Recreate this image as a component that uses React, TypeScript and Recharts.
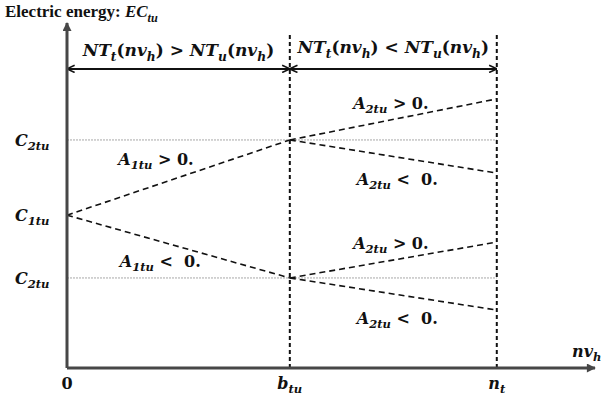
import { Line, LineChart, ReferenceDot, ReferenceLine, XAxis, YAxis } from 'recharts';

// conceptual axis positions (data units, 0..100 on both axes)
const xBreak = 42.2; // b_tu
const xEnd = 81.4; // n_t
const levelC1 = 44.3;
const levelC2Upper = 66.1;
const levelC2Lower = 26.1;
const arrowLevel = 86.7;
const dividerTop = 97.1;

const xTicks = [0, xBreak, xEnd];
const xTickLabels: Part[][] = [
  [['0', 'u']],
  [['b', 'i'], ['tu', 's']],
  [['n', 'i'], ['t', 's']]
];
const yTicks = [levelC2Lower, levelC1, levelC2Upper];
const yTickLabels: Part[][] = [
  [['C', 'i'], ['2tu', 's']],
  [['C', 'i'], ['1tu', 's']],
  [['C', 'i'], ['2tu', 's']]
];

const riseFromC1 = [{ x: 0, y: levelC1 }, { x: xBreak, y: levelC2Upper }];
const fallFromC1 = [{ x: 0, y: levelC1 }, { x: xBreak, y: levelC2Lower }];
const riseFromUpper = [{ x: xBreak, y: levelC2Upper }, { x: xEnd, y: 78.0 }];
const fallFromUpper = [{ x: xBreak, y: levelC2Upper }, { x: xEnd, y: 56.5 }];
const riseFromLower = [{ x: xBreak, y: levelC2Lower }, { x: xEnd, y: 36.5 }];
const fallFromLower = [{ x: xBreak, y: levelC2Lower }, { x: xEnd, y: 16.8 }];
const slopeSeries = [riseFromC1, fallFromC1, riseFromUpper, fallFromUpper, riseFromLower, fallFromLower];

const slopeLabels: { x: number; y: number; parts: Part[] }[] = [
  { x: 9.7, y: 58.8, parts: [['A', 'i'], ['1tu', 's'], [' > 0.', 'u']] },
  { x: 10.0, y: 29.3, parts: [['A', 'i'], ['1tu', 's'], [' <  0.', 'u']] },
  { x: 54.2, y: 75.1, parts: [['A', 'i'], ['2tu', 's'], [' > 0.', 'u']] },
  { x: 54.9, y: 53.0, parts: [['A', 'i'], ['2tu', 's'], [' <  0.', 'u']] },
  { x: 54.2, y: 34.5, parts: [['A', 'i'], ['2tu', 's'], [' > 0.', 'u']] },
  { x: 54.9, y: 12.8, parts: [['A', 'i'], ['2tu', 's'], [' <  0.', 'u']] }
];

const regionLeft: Part[] = [
  ['NT', 'i'], ['t', 's'], ['(', 'u'], ['nv', 'i'], ['h', 's'], [') > ', 'u'],
  ['NT', 'i'], ['u', 's'], ['(', 'u'], ['nv', 'i'], ['h', 's'], [')', 'u']
];
const regionRight: Part[] = [
  ['NT', 'i'], ['t', 's'], ['(', 'u'], ['nv', 'i'], ['h', 's'], [') < ', 'u'],
  ['NT', 'i'], ['u', 's'], ['(', 'u'], ['nv', 'i'], ['h', 's'], [')', 'u']
];
const xAxisTitle: Part[] = [['nv', 'i'], ['h', 's']];
const yAxisTitle: Part[] = [['Electric energy: ', 't'], ['EC', 'ti'], ['tu', 'ts']];

type Part = [string, string];

const mathFont = '"DejaVu Serif", serif';
const textFont = '"Liberation Serif", "Times New Roman", serif';
const axisColor = '#474747';

function MathText({ x, y, parts, size = 16, anchor = 'start' }: { x: number; y: number; parts: Part[]; size?: number; anchor?: string }) {
  let inSub = false;
  const shift = Math.round(size * 0.28);
  return (
    <text x={x} y={y} textAnchor={anchor} fontWeight="bold" fill="#111" fontFamily={mathFont} fontSize={size}>
      {parts.map(([t, kind], i) => {
        const sub = kind === 's' || kind === 'ts';
        const dy = sub && !inSub ? shift : !sub && inSub ? -shift : 0;
        inSub = sub;
        const family = kind.startsWith('t') ? textFont : mathFont;
        return (
          <tspan
            key={i}
            dy={dy}
            fontFamily={family}
            fontSize={sub ? size * 0.72 : size}
            fontStyle={kind === 'u' || kind === 't' ? 'normal' : 'italic'}
            style={{ whiteSpace: 'pre' }}
          >
            {t}
          </tspan>
        );
      })}
    </text>
  );
}

function segmentShape(markerStart?: string, markerEnd?: string, stroke = '#111', width = 2) {
  return (p: any) => (
    <line
      x1={p.x1}
      y1={p.y1}
      x2={p.x2}
      y2={p.y2}
      stroke={stroke}
      strokeWidth={width}
      markerStart={markerStart ? `url(#${markerStart})` : undefined}
      markerEnd={markerEnd ? `url(#${markerEnd})` : undefined}
    />
  );
}

export default function App() {
  return (
    <div style={{ position: 'absolute', left: 0, top: 0, width: 602, height: 396, background: '#fff' }}>
      <LineChart width={602} height={396} margin={{ top: 23, right: 7, bottom: 0, left: 0 }}>
        <defs>
          <marker id="axisHead" viewBox="0 0 10 10" refX="9" refY="5" markerWidth="10" markerHeight="9" markerUnits="userSpaceOnUse" orient="auto">
            <path d="M0,0 L10,5 L0,10 z" fill={axisColor} />
          </marker>
          <marker id="spanHead" viewBox="0 0 10 10" refX="9.5" refY="5" markerWidth="9" markerHeight="9" markerUnits="userSpaceOnUse" orient="auto-start-reverse">
            <path d="M1,1 L9.5,5 L1,9" fill="none" stroke="#111" strokeWidth="1.8" />
          </marker>
        </defs>
        <XAxis
          dataKey="x"
          type="number"
          domain={[0, 100]}
          ticks={xTicks}
          height={28}
          axisLine={false}
          tickLine={false}
          tickSize={0}
          tickMargin={0}
          tick={(p: any) => (
            <MathText x={p.x} y={p.y + 21} anchor="middle" size={16} parts={xTickLabels[xTicks.indexOf(p.payload.value)] ?? []} />
          )}
          label={{
            content: (p: any) => (
              <MathText x={p.viewBox.x + p.viewBox.width - 23} y={p.viewBox.y - 11} parts={xAxisTitle} size={16} />
            )
          }}
        />
        <YAxis
          type="number"
          domain={[0, 100]}
          ticks={yTicks}
          width={67}
          axisLine={false}
          tickLine={false}
          tickSize={0}
          tickMargin={0}
          tick={(p: any) => (
            <MathText x={p.x - 52} y={p.y + 6} size={16} parts={yTickLabels[yTicks.indexOf(p.payload.value)] ?? []} />
          )}
          label={{
            content: (p: any) => <MathText x={p.viewBox.x + 5} y={p.viewBox.y - 6} parts={yAxisTitle} size={17} />
          }}
        />
        <ReferenceLine
          segment={[{ x: 0, y: levelC2Upper }, { x: xEnd, y: levelC2Upper }]}
          stroke="#a8a8a8"
          strokeWidth={1}
          strokeDasharray="2 1"
        />
        <ReferenceLine
          segment={[{ x: 0, y: levelC2Lower }, { x: xEnd, y: levelC2Lower }]}
          stroke="#a8a8a8"
          strokeWidth={1}
          strokeDasharray="2 1"
        />
        <ReferenceLine segment={[{ x: xBreak, y: 0 }, { x: xBreak, y: dividerTop }]} stroke="#111" strokeWidth={2} strokeDasharray="4 3" />
        <ReferenceLine segment={[{ x: xEnd, y: 0 }, { x: xEnd, y: dividerTop }]} stroke="#111" strokeWidth={2} strokeDasharray="4 3" />
        {slopeSeries.map((series, i) => (
          <Line
            key={i}
            data={series}
            dataKey="y"
            type="linear"
            stroke="#111"
            strokeWidth={1.6}
            strokeDasharray="6 4"
            dot={false}
            activeDot={false}
            isAnimationActive={false}
          />
        ))}
        <ReferenceLine
          segment={[{ x: 0, y: arrowLevel }, { x: xBreak, y: arrowLevel }]}
          shape={segmentShape('spanHead', 'spanHead')}
          label={{
            content: (p: any) => (
              <MathText x={p.viewBox.x + p.viewBox.width / 2} y={p.viewBox.y - 13} anchor="middle" size={17} parts={regionLeft} />
            )
          }}
        />
        <ReferenceLine
          segment={[{ x: xBreak, y: arrowLevel }, { x: xEnd, y: arrowLevel }]}
          shape={segmentShape('spanHead', 'spanHead')}
          label={{
            content: (p: any) => (
              <MathText x={p.viewBox.x + p.viewBox.width / 2} y={p.viewBox.y - 16} anchor="middle" size={17} parts={regionRight} />
            )
          }}
        />
        <ReferenceLine segment={[{ x: 0, y: 0 }, { x: 100, y: 0 }]} shape={segmentShape(undefined, 'axisHead', axisColor, 3)} />
        <ReferenceLine segment={[{ x: 0, y: 0 }, { x: 0, y: 100 }]} shape={segmentShape(undefined, 'axisHead', axisColor, 3)} />
        {slopeLabels.map((l, i) => (
          <ReferenceDot
            key={i}
            x={l.x}
            y={l.y}
            r={0}
            shape={(p: any) => <MathText x={p.cx} y={p.cy} size={16} parts={l.parts} />}
          />
        ))}
      </LineChart>
    </div>
  );
}
